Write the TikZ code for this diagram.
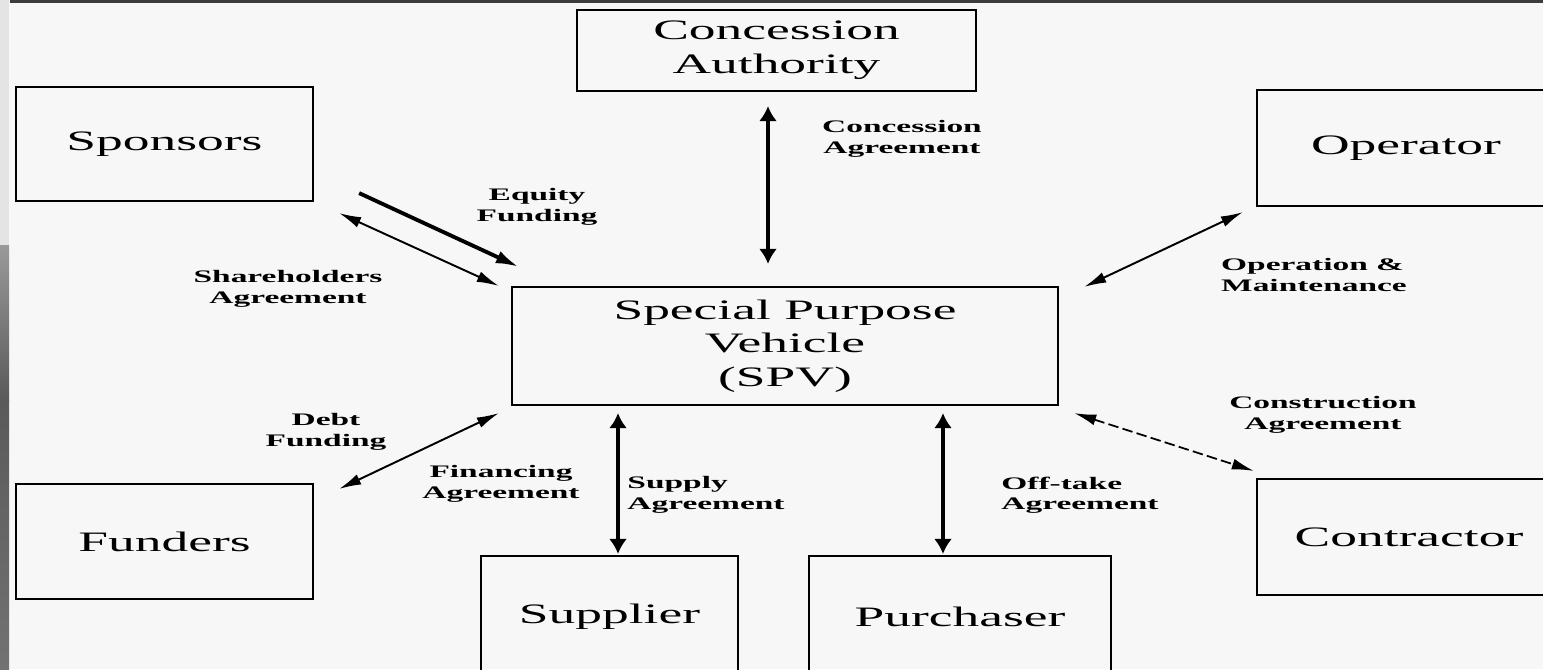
\documentclass[tikz,border=0pt]{standalone}
\usepackage{fontspec}
\setmainfont{Liberation Serif}[FakeStretch=1.9]
\usepackage{xcolor}
\usetikzlibrary{arrows.meta,positioning,calc}
\definecolor{pagebg}{HTML}{F7F7F7}
\definecolor{framegray}{HTML}{3C3C3C}
\definecolor{striplight}{HTML}{E4E4E4}
\definecolor{stripmid}{HTML}{9A9A9A}
\definecolor{stripdark}{HTML}{5A5A5A}
\definecolor{striplow}{HTML}{727272}
\tikzset{
  party/.style={draw, line width=0.6pt, align=center, inner sep=0pt,
    font=\fontsize{8}{9.6}\selectfont},
  deal/.style={align=center, inner sep=0pt,
    font=\fontsize{5}{5.8}\selectfont\bfseries},
  bigflow/.style={line width=1.4pt,
    {Latex[length=1.5mm,width=1.8mm]}-{Latex[length=1.5mm,width=1.8mm]}},
  thinflow/.style={line width=0.55pt,
    {Latex[length=2.2mm,width=1.1mm]}-{Latex[length=2.2mm,width=1.1mm]}},
}

\begin{document}
\begin{tikzpicture}[x=0.01cm, y=-0.01cm]
% page and frame
\fill[pagebg] (0,0) rectangle (1543,669);
\useasboundingbox (0,0) rectangle (1543,669);
\clip (0,0) rectangle (1543,669);
\fill[striplight] (0,0) rectangle (9,245);
\shade[top color=stripmid, bottom color=stripdark] (0,245) rectangle (9,400);
\shade[top color=stripdark, bottom color=striplow] (0,400) rectangle (9,669);
\fill[framegray] (10,0) rectangle (1543,3);

% parties (Operator and Contractor run off the right edge)
\node[party, minimum width=2.97cm, minimum height=1.14cm] (spon) at (164.5,144) {Sponsors};
\node[party, minimum width=3.99cm, minimum height=0.81cm] (auth) at (776.5,50.5) {Concession\\Authority};
\node[party, minimum width=3.6cm, minimum height=1.16cm] (oper) at (1437,148) {Operator\hspace*{0.62cm}};
\node[party, minimum width=5.46cm, minimum height=1.18cm] (spv) at (785,346) {Special Purpose\\Vehicle\\(SPV)};
\node[party, minimum width=2.97cm, minimum height=1.15cm] (fund) at (164.5,541.5) {Funders};
\node[party, minimum width=2.57cm, minimum height=1.22cm] (supp) at (609.5,617) {Supplier};
\node[party, minimum width=3.02cm, minimum height=1.22cm] (purch) at (960,617) {Purchaser};
\node[party, minimum width=3.6cm, minimum height=1.16cm] (contr) at (1437,537) {Contractor\hspace*{0.56cm}};

% agreements
\draw[bigflow, shorten <=0.14cm, shorten >=0.22cm] ([xshift=-0.085cm]auth.south) -- ([xshift=-0.085cm]auth.south |- spv.north);
\draw[line width=1.1pt, -{Latex[length=2.3mm,width=1.3mm]}] ($(spon.south east)+(45,-9)$) -- ($(spv.north west)+(8,-19)$);
\draw[thinflow] ($(spon.south east)+(25,11)$) -- ($(spv.north west)+(-12,0)$);
\draw[thinflow] ($(spv.north east)+(25,1)$) -- ($(oper.south west)+(-13,5)$);
\draw[thinflow] ($(fund.north east)+(25,6)$) -- ($(spv.south west)+(-12,7)$);
\draw[bigflow, shorten <=0.07cm, shorten >=0.01cm] ([xshift=0.085cm]supp.north |- spv.south) -- ([xshift=0.085cm]supp.north);
\draw[bigflow, line width=0.9pt, shorten <=0.07cm, shorten >=0.01cm] ([xshift=-0.17cm]purch.north |- spv.south) -- ([xshift=-0.17cm]purch.north);
\draw[thinflow, line width=0.5pt, dash pattern=on 3pt off 1.2pt] ($(spv.south east)+(15,7)$) -- ($(contr.north west)+(-2,-7)$);

% agreement labels
\node[deal] (lconc) at (902,139) {Concession\\Agreement};
\node[deal] (lequ) at (537,207) {Equity\\Funding};
\node[deal] (lshare) at (288,289) {Shareholders\\Agreement};
\node[deal, align=left] (lop) at (1314,275) {Operation \&\\Maintenance};
\node[deal] (lcons) at (1323,415) {Construction\\Agreement};
\node[deal] (ldebt) at (326,432) {Debt\\Funding};
\node[deal] (lfin) at (501,484) {Financing\\Agreement};
\node[deal, align=left] (lsup) at (706,495) {Supply\\Agreement};
\node[deal, align=left] (loff) at (1080,495) {Off-take\\Agreement};
\end{tikzpicture}
\end{document}
